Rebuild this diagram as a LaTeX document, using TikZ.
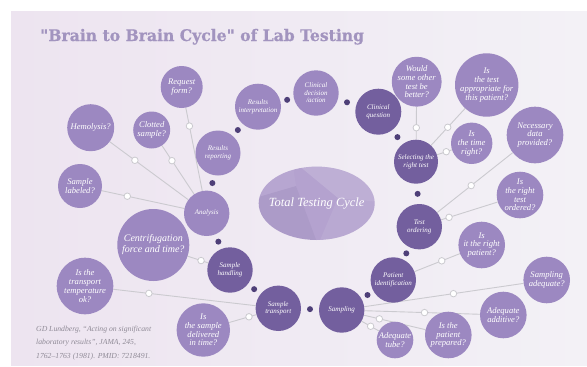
\documentclass[tikz,border=0pt]{standalone}
\usepackage{fontspec}
\setmainfont{Liberation Serif}
\newfontfamily\slabfont{DejaVu Serif}[BoldFeatures={FakeBold=0.6}]
\usetikzlibrary{shapes.geometric,backgrounds}

\definecolor{askfill}{HTML}{9C88C1}
\definecolor{stagefill}{HTML}{735F9E}
\definecolor{dotcol}{HTML}{4E3F78}
\definecolor{linkgray}{HTML}{CBCACF}
\definecolor{titlecol}{HTML}{A294BF}
\definecolor{citecol}{HTML}{8F8A96}
\definecolor{bgleft}{HTML}{EDE4F0}
\definecolor{bgright}{HTML}{F3F1F6}
\definecolor{ellbase}{HTML}{B4A2CF}

\newcommand\qlabel{\fontsize{8.6}{8.8}\selectfont\itshape}
\newcommand\slabel{\fontsize{7}{7.6}\selectfont\itshape}

\tikzset{
  bubble/.style={circle, inner sep=0pt, align=center, text=white},
  ask/.style={bubble, fill=askfill, font=\qlabel},
  lightstage/.style={bubble, fill=askfill, font=\slabel},
  stage/.style={bubble, fill=stagefill, font=\slabel},
  link/.style={draw=linkgray, line width=0.9pt},
  knob/.style={circle, draw=linkgray, fill=white, line width=0.8pt,
               minimum size=6.5pt, inner sep=0pt},
  cdot/.style={circle, fill=dotcol, minimum size=6pt, inner sep=0pt},
}

\begin{document}
\begin{tikzpicture}[x=1pt, y=-1pt]
\useasboundingbox (0,0) rectangle (587,367);

% ---- question bubbles and stages of the cycle ----
\node[ask, minimum size=42pt] (request) at (181.7,87) {Request\\form?};
\node[ask, minimum size=47pt] (hemo) at (90.7,127.7) {Hemolysis?};
\node[ask, minimum size=37pt] (clotted) at (151.7,130) {Clotted\\sample?};
\node[ask, minimum size=44pt] (labeled) at (80,186) {Sample\\labeled?};

\node[lightstage, minimum size=46pt] (interp) at (258,106.7) {Results\\interpretation};
\node[lightstage, minimum size=45pt] (report) at (218,153) {Results\\reporting};
\node[lightstage, minimum size=45.4pt] (analysis) at (206.7,213.3) {Analysis};
\node[lightstage, minimum size=45.4pt] (decision) at (316,93) {Clinical\\decision\\/action};

\node[stage, minimum size=46pt] (question) at (378.3,111.7) {Clinical\\question};
\node[ask, minimum size=44pt] (would) at (416.7,81.7) {Would\\some other\\test be\\better?};
\node[ask, minimum size=63.4pt] (approp) at (486.7,85) {Is\\the test\\appropriate for\\this patient?};
\node[stage, minimum size=44pt] (select) at (416,161.7) {Selecting the\\right test};
\node[ask, minimum size=41.4pt] (timeright) at (471.7,143.3) {Is\\the time\\right?};
\node[ask, minimum size=56.6pt] (necessary) at (535,135) {Necessary\\data\\provided?};
\node[ask, minimum size=46.6pt] (righttest) at (520,195) {Is\\the right\\test\\ordered?};
\node[stage, minimum size=45.4pt] (ordering) at (419.3,226.7) {Test\\ordering};
\node[ask, minimum size=46.6pt] (rightpat) at (481.7,245) {Is\\it the right\\patient?};
\node[stage, minimum size=45.4pt] (patid) at (393.3,280) {Patient\\identification};
\node[ask, minimum size=46.6pt] (sampadeq) at (546.7,280) {Sampling\\adequate?};
\node[stage, minimum size=45.4pt] (sampling) at (341.7,310) {Sampling};
\node[ask, minimum size=46.6pt] (additive) at (503.3,315) {Adequate\\additive?};
\node[ask, minimum size=46.6pt] (prepared) at (448.3,335) {Is the\\patient\\prepared?};
\node[ask, minimum size=36.6pt] (tube) at (395,340) {Adequate\\tube?};
\node[stage, minimum size=45.4pt] (transport) at (278.3,308.3) {Sample\\transport};
\node[ask, minimum size=53.4pt] (delivered) at (203.3,330) {Is\\the sample\\delivered\\in time?};
\node[ask, minimum size=56.6pt] (temp) at (85,286) {Is the\\transport\\temperature\\ok?};
\node[stage, minimum size=45.4pt] (handling) at (230,270) {Sample\\handling};
\node[ask, minimum size=72pt, font=\fontsize{10}{11}\selectfont\itshape] (centri) at (153.3,245) {Centrifugation\\force and time?};

% ---- central ellipse ----
\node[ellipse, minimum width=116pt, minimum height=73.4pt, inner sep=0pt,
      text=white, font=\fontsize{12.5}{13}\selectfont\itshape] (ttc) at (316.7,203.3) {Total Testing Cycle};

% ---- title and reference ----
\node[anchor=base west, inner sep=0pt, text=titlecol,
      font=\slabfont\bfseries\fontsize{16}{16}\selectfont] (title) at (40,41)
  {\scalebox{0.975}[1]{"Brain to Brain Cycle" of Lab Testing}};
\node[anchor=north west, inner sep=0pt, align=left, text=citecol,
      font=\fontsize{7.7}{13.2}\selectfont\itshape] (cite) at (36,326)
  {GD Lundberg, “Acting on significant\\laboratory results”, JAMA, 245,\\1762–1763 (1981). PMID: 7218491.};

% ---- dots between consecutive stages of the cycle ----
\path (report) -- node[cdot]{} (analysis);
\path (interp) -- node[cdot]{} (report);
\path (decision) -- node[cdot]{} (interp);
\path (question) -- node[cdot]{} (decision);
\path (select) -- node[cdot]{} (question);
\path (ordering) -- node[cdot]{} (select);
\path (patid) -- node[cdot]{} (ordering);
\path (sampling) -- node[cdot]{} (patid);
\path (transport) -- node[cdot]{} (sampling);
\path (handling) -- node[cdot]{} (transport);
\path (analysis) -- node[cdot]{} (handling);

\begin{pgfonlayer}{background}
  % backdrop
  \fill[white] (0,0) rectangle (587,367);
  \shade[left color=bgleft, right color=bgright] (11,11) rectangle (587,365);
  % faceted fill of the central ellipse
  \fill[ellbase] (ttc.center) ellipse[x radius=58, y radius=36.7];
  \begin{scope}
    \clip (ttc.center) ellipse[x radius=58, y radius=36.7];
    \fill[white, opacity=0.14] (292,160) -- (380,160) -- (380,202) -- (338,198) -- cycle;
    \fill[white, opacity=0.08] (338,198) -- (380,202) -- (380,222) -- (330,245) -- (318,245) -- cycle;
    \fill[dotcol, opacity=0.07] (255,198) -- (296,186) -- (318,245) -- (255,245) -- cycle;
    \fill[white, opacity=0.22] (332,245) -- (380,218) -- (380,245) -- cycle;
    \fill[white, opacity=0.05] (255,160) -- (292,160) -- (296,186) -- (255,198) -- cycle;
  \end{scope}

  % connectors from the questions to their stage
  \draw[link] (request) -- node[knob, pos=0.22]{} (analysis);
  \draw[link] (clotted) -- node[knob, pos=0.31]{} (analysis);
  \draw[link] (hemo) -- node[knob, pos=0.32]{} (analysis);
  \draw[link] (labeled) -- node[knob, pos=0.31]{} (analysis);
  \draw[link] (centri) -- node[knob, pos=0.65]{} (handling);
  \draw[link] (temp) -- node[knob, pos=0.25]{} (transport);
  \draw[link] (delivered) -- node[knob, pos=0.73]{} (transport);
  \draw[link] (sampling) -- node[knob, pos=0.56]{} (sampadeq);
  \draw[link] (sampling) -- node[knob, pos=0.52]{} (additive);
  \draw[link] (sampling) -- node[knob, pos=0.25]{} (prepared);
  \draw[link] (sampling) -- node[knob, pos=0.52]{} (tube);
  \draw[link] (patid) -- node[knob, pos=0.6]{} (rightpat);
  \draw[link] (ordering) -- node[knob, pos=0.14]{} (righttest);
  \draw[link] (ordering) -- node[knob, pos=0.45]{} (necessary);
  \draw[link] (select) -- node[knob, pos=0.62]{} (timeright);
  \draw[link] (select) -- node[knob, pos=0.49]{} (approp);
  \draw[link] (select) -- node[knob, pos=0.36]{} (would);
\end{pgfonlayer}
\end{tikzpicture}
\end{document}
